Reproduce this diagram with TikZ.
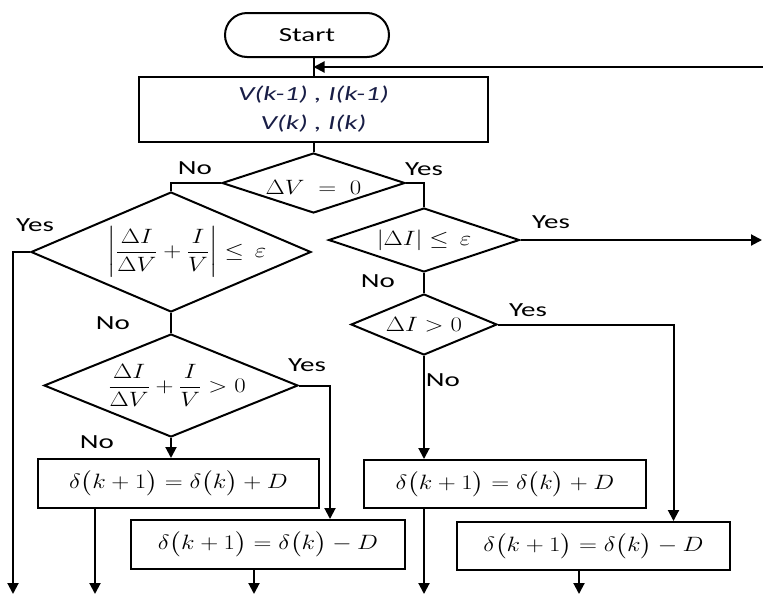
\documentclass[tikz,border=0pt]{standalone}
\usepackage{amsmath,amssymb}
\usepackage{graphicx}
\usepackage{fontspec}
\newfontfamily\calfont[FakeStretch=1.45]{Carlito}
\usetikzlibrary{shapes.geometric}
\usetikzlibrary{arrows.meta}
\newcommand{\wideq}[1]{\scalebox{1.2}[1]{$\displaystyle #1$}}
\definecolor{navy}{RGB}{25,30,70}

\tikzset{
  every node/.style={font=\fontsize{21}{25}\selectfont},
  box/.style={draw,line width=2pt,rectangle,inner sep=0pt},
  dia/.style={draw,line width=2pt,diamond,inner sep=0pt},
  lab/.style={font=\calfont\fontsize{20}{24}\selectfont},
  flow/.style={line width=2pt},
  arr/.style={line width=2pt,-{Triangle[length=11pt,width=11pt]}}
}

\begin{document}
\begin{tikzpicture}[x=1pt,y=-1pt]
\useasboundingbox (0,0) rectangle (763,595);

% start and input
\node [box,rounded corners=22pt,minimum width=164pt,minimum height=44pt,
       font=\calfont\fontsize{20}{24}\selectfont] (start) at (307,35) {Start};
\node [box,minimum width=349pt,minimum height=65pt,align=center,text=navy,
       font=\calfont\itshape\fontsize{20}{29}\selectfont] (in) at (313.5,109.5) {V(k-1) , I(k-1)\\V(k) , I(k)};

% decisions
\node [dia,minimum width=183pt,minimum height=60pt,
       label={[yshift=-4pt]center:\wideq{\Delta V \;=\; 0}}] (d1) at (313.5,183) {};
\node [dia,minimum width=280pt,minimum height=120pt,
       label={[xshift=16pt]center:\wideq{\left|\frac{\Delta I}{\Delta V}+\frac{I}{V}\right|\le\,\varepsilon}}] (d2) at (171,252) {};
\node [dia,minimum width=191pt,minimum height=64pt,
       label=center:{\wideq{\left|\Delta I\right|\le\,\varepsilon}}] (d3) at (424,240) {};
\node [dia,minimum width=254pt,minimum height=103pt,
       label={[xshift=6pt]center:\wideq{\frac{\Delta I}{\Delta V}+\frac{I}{V}>0}}] (d4) at (171,385.5) {};
\node [dia,minimum width=146pt,minimum height=61pt,
       label=center:{\wideq{\Delta I>0}}] (d5) at (424,324.5) {};

% updates
\node [box,minimum width=281pt,minimum height=49pt] (Lp) at (178.5,483.5) {\wideq{\delta\bigl(k+1\bigr)=\delta\bigl(k\bigr)+D}};
\node [box,minimum width=274pt,minimum height=49pt] (Lm) at (268,544.5) {\wideq{\delta\bigl(k+1\bigr)=\delta\bigl(k\bigr)-D}};
\node [box,minimum width=282pt,minimum height=48pt] (Rp) at (505,484) {\wideq{\delta\bigl(k+1\bigr)=\delta\bigl(k\bigr)+D}};
\node [box,minimum width=273pt,minimum height=48pt] (Rm) at (593.5,546) {\wideq{\delta\bigl(k+1\bigr)=\delta\bigl(k\bigr)-D}};

% free ends
\coordinate (back) at (763,66);
\coordinate (o1) at (13,594);
\coordinate (o2) at (95,594);
\coordinate (o3) at (254,594);
\coordinate (o4) at (424,594);
\coordinate (o5) at (579,594);
\coordinate (o6) at (762,240);

% connectors
\draw [flow] (start.south -| in.north) -- coordinate (j) (in.north);
\draw [arr] (back |- j) -- (j);
\draw [flow] (in.south) -- (d1.north);
\draw [flow] (d1.west) -| (d2.north);
\draw [flow] (d1.east) -| (d3.north);
\draw [arr] (d2.west) -| (o1);
\draw [flow] (d2.south) -- (d4.north);
\draw [arr] (d4.south) -- (d4.south |- Lp.north);
\draw [arr] (d4.east) -| ([xshift=62pt]Lm.north);
\draw [flow] (d3.south) -- (d5.north);
\draw [arr] (d3.east) -- (o6);
\draw [arr] (d5.south) -- (d5.south |- Rp.north);
\draw [arr] (d5.east) -| ([xshift=80pt]Rm.north);
\draw [arr] (o2 |- Lp.south) -- (o2);
\draw [arr] (o3 |- Lm.south) -- (o3);
\draw [arr] (o4 |- Rp.south) -- (o4);
\draw [arr] (o5 |- Rm.south) -- (o5);

% branch labels
\node [lab] (no1) at (195,168) {No};
\node [lab] (yes1) at (424,169) {Yes};
\node [lab] (yes2) at (35,225) {Yes};
\node [lab] (yes3) at (551,222) {Yes};
\node [lab] (no2) at (378,281) {No};
\node [lab] (no3) at (113,323) {No};
\node [lab] (yes4) at (528,310) {Yes};
\node [lab] (yes5) at (307,365) {Yes};
\node [lab] (no4) at (443,380) {No};
\node [lab] (no5) at (97,442) {No};
\end{tikzpicture}
\end{document}
